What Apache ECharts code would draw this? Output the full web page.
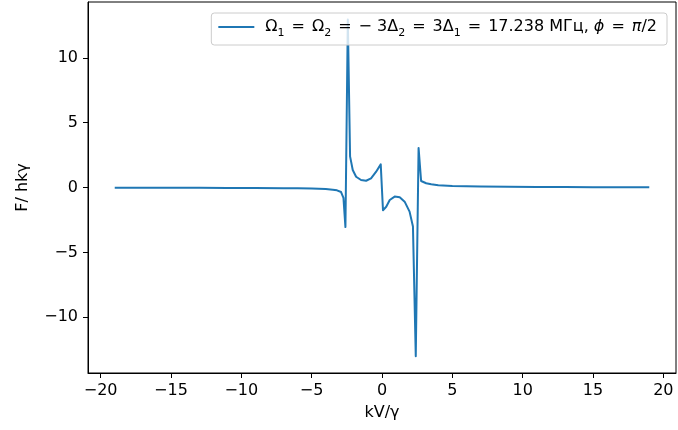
<!DOCTYPE html>
<html><head><meta charset="utf-8">
<script src="https://cdn.jsdelivr.net/npm/echarts@6/dist/echarts.min.js"></script>
<style>html,body{margin:0;padding:0;background:#fff}#c{width:678px;height:430px}</style>
</head><body><div id="c"></div>
<script>
const xValues = [-19, -17, -15, -13, -11, -9, -7, -6, -5, -4.5, -4, -3.5, -3.2, -2.91, -2.74, -2.60, -2.43, -2.27, -2.08, -1.84, -1.49, -1.13, -0.78, -0.43, -0.09, 0.07, 0.30, 0.55, 0.90, 1.26, 1.61, 1.96, 2.20, 2.40, 2.60, 2.78, 3.14, 3.5, 4, 5, 6, 7, 9, 11, 13, 15, 17, 19];
const yValues = [-0.01, -0.01, -0.02, -0.02, -0.03, -0.04, -0.05, -0.06, -0.08, -0.1, -0.12, -0.17, -0.22, -0.35, -0.8, -3.05, 12.95, 2.4, 1.35, 0.83, 0.58, 0.52, 0.7, 1.2, 1.78, -1.75, -1.48, -0.96, -0.7, -0.75, -1.09, -1.86, -3.0, -13.0, 3.05, 0.5, 0.33, 0.25, 0.18, 0.12, 0.09, 0.07, 0.05, 0.04, 0.03, 0.02, 0.02, 0.01];
const xTicks = [-20, -15, -10, -5, 0, 5, 10, 15, 20];
const yTicks = [-10, -5, 0, 5, 10];
const seriesName = 'Ω1 = Ω2 = − 3Δ2 = 3Δ1 = 17.238 МГц, ϕ = π/2';
const xLabel = 'kV/γ';
const yLabel = 'F/ hkγ';

const FONT = '"DejaVu Sans"';
const FS = 16;
const chart = echarts.init(document.getElementById('c'), null, {renderer: 'canvas'});
const data = xValues.map((x, i) => [x, yValues[i]]);
const fmt = v => String(v).replace('-', '\u2212');

chart.setOption({
  animation: false,
  backgroundColor: '#fff',
  grid: {left: 88, right: 2, top: 2, bottom: 57, show: true, borderColor: '#000', borderWidth: 1},
  xAxis: {
    type: 'value', min: -20.9, max: 20.9,
    name: xLabel, nameLocation: 'middle', nameGap: 32,
    nameTextStyle: {fontFamily: FONT, fontSize: FS, color: '#000'},
    axisLine: {show: true, onZero: false, lineStyle: {color: '#000', width: 1}},
    axisTick: {show: true, customValues: xTicks, length: 5, lineStyle: {color: '#000', width: 1}},
    axisLabel: {customValues: xTicks, formatter: fmt, fontFamily: FONT, fontSize: FS, color: '#000', margin: 10},
    splitLine: {show: false}
  },
  yAxis: {
    type: 'value', min: -14.3, max: 14.3,
    name: yLabel, nameLocation: 'middle', nameGap: 57,
    nameTextStyle: {fontFamily: FONT, fontSize: FS, color: '#000'},
    axisLine: {show: true, onZero: false, lineStyle: {color: '#000', width: 1}},
    axisTick: {show: true, customValues: yTicks, length: 5, lineStyle: {color: '#000', width: 1}},
    axisLabel: {customValues: yTicks, formatter: fmt, fontFamily: FONT, fontSize: FS, color: '#000', margin: 10},
    splitLine: {show: false}
  },
  legend: {
    right: 11, top: 13,
    padding: [6, 10, 6, 7],
    backgroundColor: 'rgba(255,255,255,0.8)',
    borderColor: '#cccccc', borderWidth: 1, borderRadius: 3,
    icon: 'rect', itemWidth: 36, itemHeight: 2,
    data: [seriesName],
    formatter: () => '{sp| }{t|Ω}{s|1}{e|=}{t|Ω}{s|2}{e|=}{t|− 3Δ}{s|2}{e|=}{t|3Δ}{s|1}{e|=}{t|17.238 МГц, }{i|ϕ}{e|=}{i|π}{t|/2}',
    textStyle: {
      fontFamily: FONT, fontSize: FS, color: '#000',
      rich: {
        sp: {width: 6, fontSize: FS, lineHeight: 18},
        t: {fontFamily: FONT, fontSize: FS, color: '#000', lineHeight: 18},
        e: {fontFamily: FONT, fontSize: FS, color: '#000', lineHeight: 18, padding: [0, 7, 0, 7]},
        i: {fontFamily: FONT, fontSize: FS, color: '#000', fontStyle: 'italic', lineHeight: 18},
        s: {fontFamily: FONT, fontSize: 11, color: '#000', lineHeight: 11, verticalAlign: 'bottom', padding: [0, 0, -3, 0]}
      }
    }
  },
  series: [{
    name: seriesName, type: 'line', data: data,
    showSymbol: false, symbol: 'none',
    color: '#1f77b4',
    lineStyle: {color: '#1f77b4', width: 2, join: 'round'}
  }]
});
</script></body></html>
